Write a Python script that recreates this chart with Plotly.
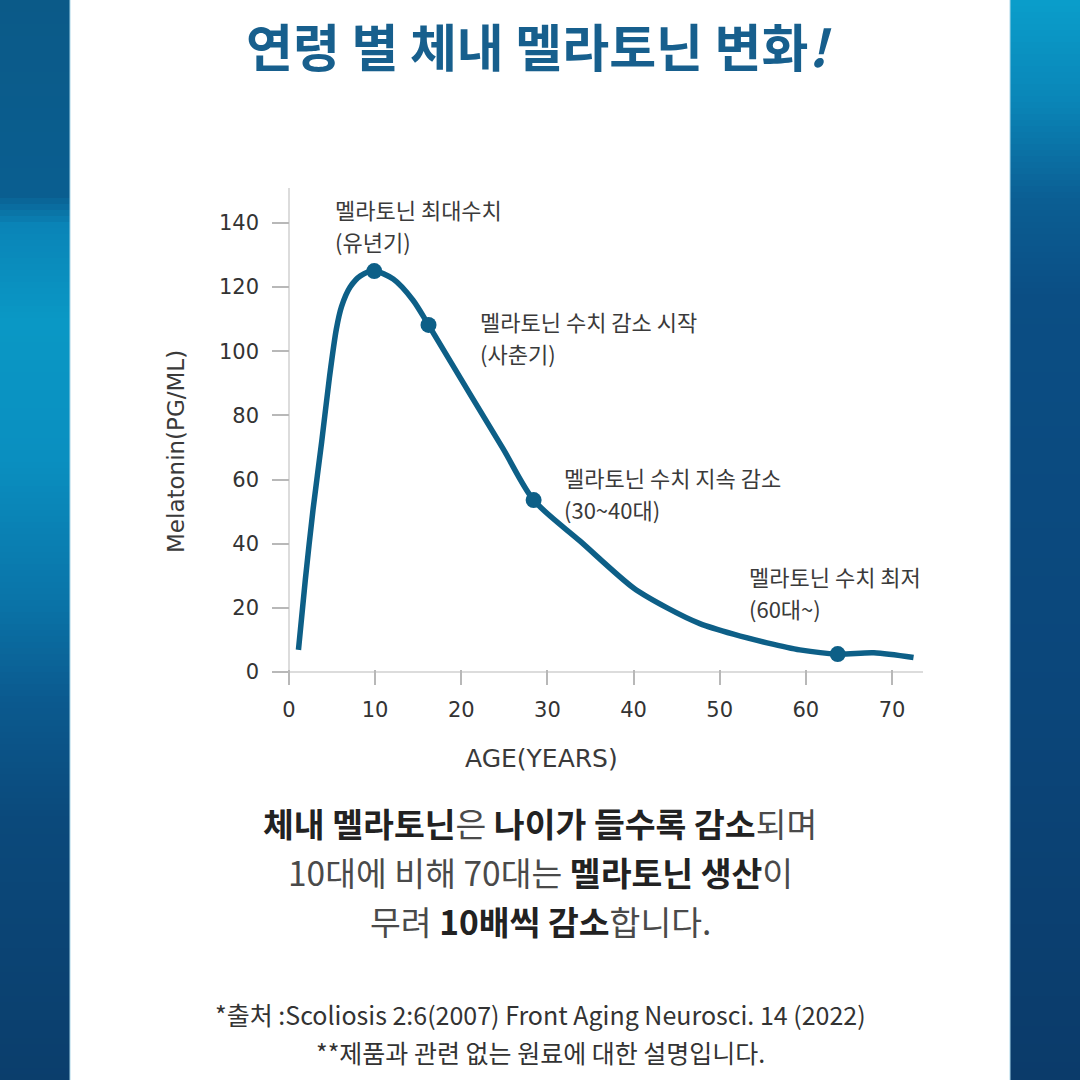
import plotly.graph_objects as go

# ---------------- data ----------------
age = [1.1, 1.9, 2.8, 3.8, 4.7, 5.5, 6.1, 7.1, 8.3, 9.9, 12.1, 14.4, 16.2,
       21.0, 24.9, 28.4, 33.8, 40.0, 43.9, 47.7, 51.6, 55.5, 59.3,
       63.7, 67.9, 72.5]
melatonin = [6.9, 28.8, 50.8, 71.8, 91.9, 106.9, 113.9, 120.0, 123.5, 125.0,
             122.5, 115.9, 108.2, 86.7, 69.4, 53.6, 40.8, 26.2, 20.0,
             15.1, 11.8, 9.1, 6.9, 5.6, 6.0, 4.5]

key_age = [9.9, 16.2, 28.4, 63.7]
key_val = [125.0, 108.2, 53.6, 5.6]
key_title = ["멜라토닌 최대수치", "멜라토닌 수치 감소 시작", "멜라토닌 수치 지속 감소", "멜라토닌 수치 최저"]
key_period = ["(유년기)", "(사춘기)", "(30~40대)", "(60대~)"]

x_ticks = [0, 10, 20, 30, 40, 50, 60, 70]
y_ticks = [0, 20, 40, 60, 80, 100, 120, 140]

title_text = "연령 별 체내 멜라토닌 변화"
x_title = "AGE(YEARS)"
y_title = "Melatonin(PG/ML)"

# ---------------- helpers ----------------
W = H = 1080
def px(x):
    return x / W
def py(y):
    return 1 - y / H

LINE_C = "#0d5f87"
TXT = "#3a3a3a"
KR = "Noto Sans CJK KR"
LAT = "DejaVu Sans"

fig = go.Figure()

fig.add_trace(go.Scatter(
    x=age, y=melatonin, mode="lines",
    line=dict(color=LINE_C, width=5.5, shape="spline", smoothing=0.8),
    hoverinfo="skip", showlegend=False))
fig.add_trace(go.Scatter(
    x=key_age, y=key_val, mode="markers",
    marker=dict(color=LINE_C, size=16),
    hoverinfo="skip", showlegend=False))

# ---------------- side gradient bands ----------------
def hex2rgb(h):
    h = h.lstrip("#")
    return tuple(int(h[i:i + 2], 16) for i in (0, 2, 4))

def interp(stops, y):
    for (y0, c0), (y1, c1) in zip(stops[:-1], stops[1:]):
        if y0 <= y <= y1:
            t = (y - y0) / (y1 - y0) if y1 > y0 else 0
            a, b = hex2rgb(c0), hex2rgb(c1)
            return "rgb(%d,%d,%d)" % tuple(round(a[i] + (b[i] - a[i]) * t) for i in range(3))
    return stops[-1][1]

left_stops = [(0, "#0b5a88"), (195, "#0a5e90"), (225, "#0a84b7"), (320, "#0a98c5"),
              (460, "#0a8fc0"), (600, "#0a74a8"), (700, "#0b5a8f"), (820, "#0b497b"),
              (1080, "#0b3e6c")]
right_stops = [(0, "#0a9ecb"), (100, "#0a86b8"), (200, "#0b5e93"), (300, "#0b4e84"),
               (700, "#0b467a"), (1080, "#0b3b6a")]

shapes = []
step = 6
for y0 in range(0, H, step):
    ym = y0 + step / 2
    for (xa, xb, stops) in ((0, 70, left_stops), (1010, 1080, right_stops)):
        shapes.append(dict(type="rect", xref="paper", yref="paper",
                           x0=px(xa), x1=px(xb), y0=py(y0 + step + 0.5), y1=py(y0),
                           fillcolor=interp(stops, ym), line=dict(width=0), layer="below"))
for xe in (70, 1010):
    shapes.append(dict(type="line", xref="paper", yref="paper", x0=px(xe), x1=px(xe),
                       y0=0, y1=1, line=dict(color="#a9d6e8", width=1), layer="below"))

# ---------------- annotations ----------------
ann = []
ann.append(dict(text="<b>" + title_text + "<i>!</i></b>", x=px(538), y=py(45),
                xref="paper", yref="paper", showarrow=False, xanchor="center", yanchor="middle",
                font=dict(family=KR, size=51, color="#175f8d")))

lab_pos = [(333, 209, 241), (478, 321, 353), (562, 477, 509), (747, 576, 608)]
for (lx, y1, y2), t1, t2 in zip(lab_pos, key_title, key_period):
    ann.append(dict(text=t1, x=px(lx), y=py(y1), xref="paper", yref="paper", showarrow=False,
                    xanchor="left", yanchor="middle", font=dict(family=KR, size=22, color=TXT)))
    ann.append(dict(text=t2, x=px(lx), y=py(y2), xref="paper", yref="paper", showarrow=False,
                    xanchor="left", yanchor="middle", font=dict(family=KR, size=22, color=TXT)))

ann.append(dict(text=x_title, x=px(541), y=py(759), xref="paper", yref="paper", showarrow=False,
                xanchor="center", yanchor="middle", font=dict(family=LAT, size=25, color=TXT)))
ann.append(dict(text=y_title, x=px(176), y=py(452), xref="paper", yref="paper", showarrow=False,
                textangle=-90, xanchor="center", yanchor="middle",
                font=dict(family=LAT, size=23, color=TXT)))

REG = "#4a4a4a"
def reg(s):
    return "<span style='color:%s'>%s</span>" % (REG, s)

body = [
    "<b>체내 멜라토닌</b>" + reg("은 ") + "<b>나이가 들수록 감소</b>" + reg("되며"),
    reg("10대에 비해 70대는 ") + "<b>멜라토닌 생산</b>" + reg("이"),
    reg("무려 ") + "<b>10배씩 감소</b>" + reg("합니다."),
]
for s, yy in zip(body, (822, 871, 920)):
    ann.append(dict(text=s, x=px(540), y=py(yy), xref="paper", yref="paper", showarrow=False,
                    xanchor="center", yanchor="middle", font=dict(family=KR, size=33.5, color="#222222")))

foot = ["*출처 :Scoliosis 2:6(2007) Front Aging Neurosci. 14 (2022)",
        "**제품과 관련 없는 원료에 대한 설명입니다."]
for s, yy in zip(foot, (1014, 1052)):
    ann.append(dict(text=s, x=px(540), y=py(yy), xref="paper", yref="paper", showarrow=False,
                    xanchor="center", yanchor="middle", font=dict(family=KR, size=25, color="#333333")))

# ---------------- layout ----------------
axis_common = dict(showgrid=False, showline=False, zeroline=True, zerolinecolor="#dcdcdc",
                   zerolinewidth=2, ticks="inside", tickcolor="#b8b8b8", tickwidth=2,
                   tickfont=dict(family=LAT, size=21, color="#333333"), fixedrange=True)

fig.update_layout(
    width=W, height=H, autosize=False,
    margin=dict(l=0, r=0, t=0, b=0, pad=0),
    paper_bgcolor="white", plot_bgcolor="white",
    xaxis=dict(domain=[px(272), px(923)], range=[-1.97, 73.6], tickvals=x_ticks,
               ticklen=15, ticklabelstandoff=10, **axis_common),
    yaxis=dict(domain=[py(685), py(188)], range=[-4.05, 150.9], tickvals=y_ticks,
               ticklen=17, ticklabelstandoff=12, **axis_common),
    shapes=shapes, annotations=ann, showlegend=False,
)

fig.write_html("out.html")
